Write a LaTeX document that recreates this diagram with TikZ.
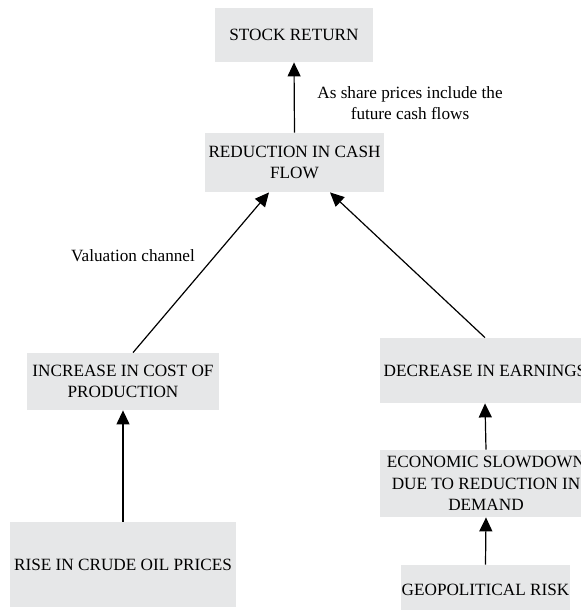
\documentclass[tikz,border=0pt]{standalone}
\usepackage{fontspec}
\setmainfont{Liberation Serif}
\usetikzlibrary{arrows.meta}
\definecolor{boxgray}{RGB}{230,231,232}
\tikzset{
	factor/.style={fill=boxgray, align=center, inner sep=0pt, font=\fontsize{8.6}{10.7}\selectfont},
	link/.style={-{Triangle[length=7pt,width=6.5pt]}, line width=.6pt}
}

\begin{document}
\begin{tikzpicture}[x=.5pt, y=-.5pt]
	
	\useasboundingbox (0,0) rectangle (581,610);
	
	\node[factor, minimum width=79pt, minimum height=27pt] (ret) at (294,35) {STOCK RETURN};
	\node[factor, minimum width=89.5pt, minimum height=29.5pt] (red) at (294.5,162.5) {REDUCTION IN CASH\\FLOW};
	\node[factor, minimum width=96pt, minimum height=28.5pt] (inc) at (123,381.5) {INCREASE IN COST OF\\PRODUCTION};
	\node[factor, minimum width=113pt, minimum height=42.5pt] (rise) at (123,564.5) {RISE IN CRUDE OIL PRICES};
	\node[factor, minimum width=105pt, minimum height=32.5pt] (dec) at (485,370.5) {DECREASE IN EARNINGS};
	\node[factor, minimum width=106pt, minimum height=33.5pt] (eco) at (486,483.5) {ECONOMIC SLOWDOWN\\DUE TO REDUCTION IN\\DEMAND};
	\node[factor, minimum width=84.5pt, minimum height=25pt] (geo) at (485.5,590) {GEOPOLITICAL RISK};
	
	\node[align=center, font=\fontsize{8.6}{10.7}\selectfont] (share) at (410,103) {As share prices include the\\future cash flows};
	\node[font=\fontsize{8.6}{10.7}\selectfont] (valu) at (133,256) {Valuation channel};
	
	\draw[link] (red.north) -- (ret.south);
	\draw[link] ([xshift=5pt]inc.north) -- ([xshift=-12.75pt]red.south);
	\draw[link] (dec.north) -- ([xshift=17.75pt]red.south);
	\draw[link] (rise.north) -- (inc.south);
	\draw[link] (eco.north) -- (dec.south);
	\draw[link] (geo.north) -- (eco.south);

\end{tikzpicture}
\end{document}
